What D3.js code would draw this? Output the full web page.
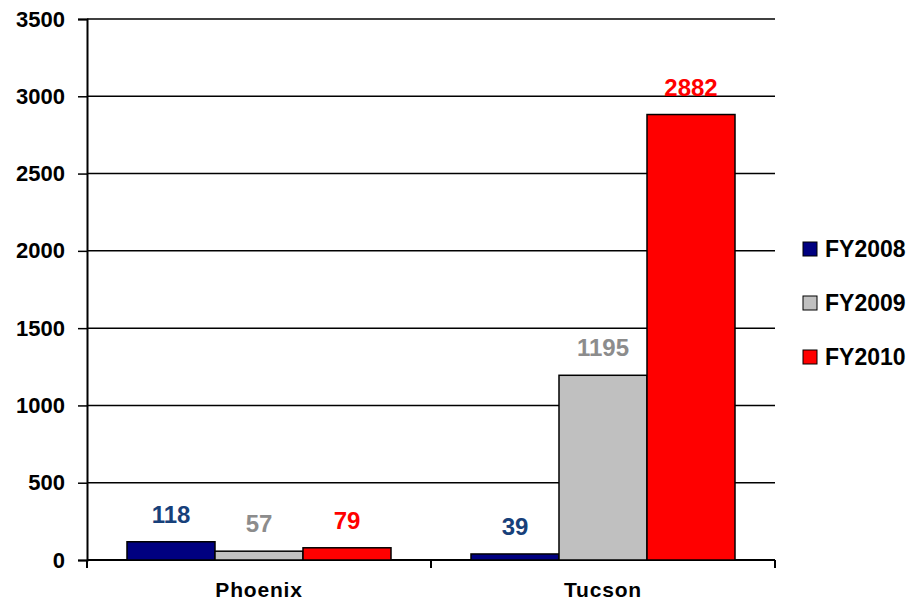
<!DOCTYPE html>
<html>
<head>
<meta charset="utf-8">
<script src="https://cdn.jsdelivr.net/npm/d3@7"></script>
<style>
  body { margin: 0; background: #fff; }
  text { font-family: "Liberation Sans", Arial, sans-serif; font-weight: bold; }
</style>
</head>
<body>
<script>
const cities = ["Phoenix", "Tucson"];
const years = ["FY2008", "FY2009", "FY2010"];
const fy2008 = [118, 39];
const fy2009 = [57, 1195];
const fy2010 = [79, 2882];
const yTicks = [0, 500, 1000, 1500, 2000, 2500, 3000, 3500];

const barColors = ["#000080", "#C0C0C0", "#FF0000"];
const labelColors = ["#17407A", "#8C8C8C", "#FF0000"];

const svgWidth = 916, svgHeight = 603;
const plotLeft = 87, plotRight = 775, plotTop = 19, plotBottom = 560;

const rows = cities.map((c, i) => ({
    city: c,
    values: [fy2008[i], fy2009[i], fy2010[i]]
}));

const svg = d3.select("body")
    .append("svg")
    .attr("width", svgWidth)
    .attr("height", svgHeight);

const x0 = d3.scaleBand()
    .domain(cities)
    .range([plotLeft, plotRight]);

const x1 = d3.scaleBand()
    .domain(years)
    .range([0, x0.bandwidth()])
    .paddingOuter(0.4545);

const y = d3.scaleLinear()
    .domain([0, 3500])
    .range([plotBottom, plotTop]);

// gridlines
svg.append("g")
    .selectAll("line")
    .data(yTicks)
    .enter()
    .append("line")
    .attr("x1", plotLeft)
    .attr("x2", plotRight)
    .attr("y1", d => y(d))
    .attr("y2", d => y(d))
    .attr("stroke", "#000")
    .attr("stroke-width", 1.5);

// y axis
const yAxis = svg.append("g")
    .attr("transform", `translate(${plotLeft},0)`)
    .call(d3.axisLeft(y).tickValues(yTicks).tickFormat(d3.format("d")).tickSize(9).tickPadding(13));
yAxis.select(".domain").attr("stroke-width", 2);
yAxis.selectAll(".tick line").attr("stroke-width", 1.5);
yAxis.selectAll("text")
    .attr("font-size", 22)
    .attr("fill", "#000")
    .attr("font-family", "Liberation Sans, Arial, sans-serif")
    .attr("font-weight", "bold");

// x axis: base line and boundary ticks
svg.append("line")
    .attr("x1", plotLeft).attr("x2", plotRight)
    .attr("y1", y(0)).attr("y2", y(0))
    .attr("stroke", "#000").attr("stroke-width", 2);

const bounds = cities.map(c => x0(c)).concat([x0(cities[cities.length - 1]) + x0.bandwidth()]);
svg.append("g")
    .selectAll("line")
    .data(bounds)
    .enter()
    .append("line")
    .attr("x1", d => d).attr("x2", d => d)
    .attr("y1", y(0)).attr("y2", y(0) + 8)
    .attr("stroke", "#000").attr("stroke-width", 2);

svg.append("g")
    .selectAll("text")
    .data(cities)
    .enter()
    .append("text")
    .attr("x", d => x0(d) + x0.bandwidth() / 2)
    .attr("y", 597)
    .attr("text-anchor", "middle")
    .attr("font-size", 21)
    .attr("letter-spacing", 0.8)
    .text(d => d);

// bars
const groups = svg.append("g")
    .selectAll("g")
    .data(rows)
    .enter()
    .append("g")
    .attr("transform", d => `translate(${x0(d.city)},0)`);

groups.selectAll("rect")
    .data(d => d.values.map((v, i) => ({ key: years[i], i: i, v: v })))
    .enter()
    .append("rect")
    .attr("x", d => x1(d.key))
    .attr("y", d => y(d.v))
    .attr("width", x1.bandwidth())
    .attr("height", d => y(0) - y(d.v))
    .attr("fill", d => barColors[d.i])
    .attr("stroke", "#000")
    .attr("stroke-width", 1.5);

groups.selectAll("text")
    .data(d => d.values.map((v, i) => ({ key: years[i], i: i, v: v })))
    .enter()
    .append("text")
    .attr("x", d => x1(d.key) + x1.bandwidth() / 2)
    .attr("y", d => y(d.v) - 19)
    .attr("text-anchor", "middle")
    .attr("font-size", 24)
    .attr("fill", d => labelColors[d.i])
    .text(d => d.v);

// legend
const legend = svg.append("g")
    .selectAll("g")
    .data(years)
    .enter()
    .append("g")
    .attr("transform", (d, i) => `translate(803,${249 + i * 54})`);

legend.append("rect")
    .attr("x", 0).attr("y", -7)
    .attr("width", 14).attr("height", 14)
    .attr("fill", (d, i) => barColors[i])
    .attr("stroke", "#000")
    .attr("stroke-width", 1);

legend.append("text")
    .attr("x", 22)
    .attr("y", 8)
    .attr("font-size", 23)
    .text(d => d);
</script>
</body>
</html>
